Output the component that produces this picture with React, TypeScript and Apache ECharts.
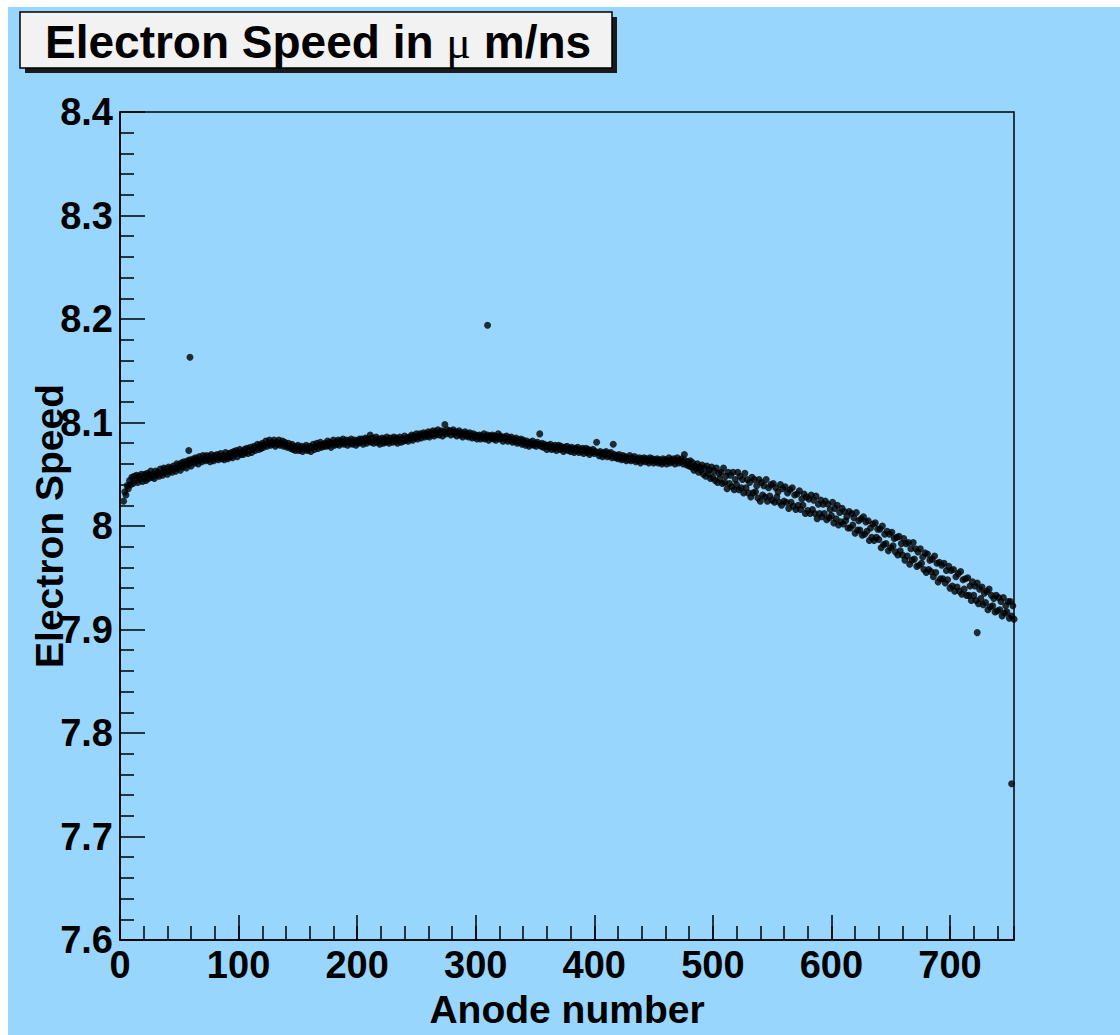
import React, { useEffect, useRef } from 'react';
import * as echarts from 'echarts';

// Anode numbers start here; each segment holds consecutive anodes.
const firstAnode = 3;

// anodes 3-102
const speedSeg1 = [
  8.024, 8.033, 8.030, 8.039, 8.036, 8.044, 8.040, 8.047, 8.041, 8.048,
  8.044, 8.049, 8.042, 8.048, 8.045, 8.050, 8.043, 8.046, 8.050, 8.044,
  8.051, 8.046, 8.049, 8.053, 8.047, 8.050, 8.046, 8.053, 8.049, 8.052,
  8.048, 8.055, 8.051, 8.049, 8.056, 8.052, 8.055, 8.050, 8.057, 8.053,
  8.056, 8.052, 8.058, 8.055, 8.053, 8.060, 8.056, 8.059, 8.054, 8.061,
  8.057, 8.062, 8.059, 8.056, 8.063, 8.060, 8.064, 8.058, 8.062, 8.065,
  8.061, 8.066, 8.063, 8.060, 8.067, 8.064, 8.062, 8.068, 8.065, 8.063,
  8.068, 8.064, 8.067, 8.062, 8.069, 8.066, 8.063, 8.068, 8.065, 8.069,
  8.064, 8.067, 8.070, 8.065, 8.068, 8.064, 8.071, 8.067, 8.065, 8.070,
  8.067, 8.071, 8.066, 8.072, 8.069, 8.073, 8.067, 8.070, 8.074, 8.069,
];

// anodes 103-202
const speedSeg2 = [
  8.072, 8.069, 8.074, 8.071, 8.075, 8.070, 8.073, 8.076, 8.071, 8.074,
  8.077, 8.073, 8.076, 8.079, 8.074, 8.078, 8.075, 8.080, 8.076, 8.079,
  8.082, 8.077, 8.080, 8.083, 8.078, 8.081, 8.079, 8.083, 8.077, 8.081,
  8.079, 8.083, 8.078, 8.080, 8.082, 8.077, 8.081, 8.078, 8.076, 8.080,
  8.077, 8.075, 8.079, 8.074, 8.077, 8.073, 8.076, 8.078, 8.073, 8.075,
  8.077, 8.072, 8.076, 8.074, 8.078, 8.073, 8.075, 8.077, 8.072, 8.076,
  8.079, 8.074, 8.077, 8.080, 8.075, 8.078, 8.081, 8.076, 8.079, 8.077,
  8.080, 8.077, 8.082, 8.078, 8.081, 8.076, 8.080, 8.083, 8.078, 8.081,
  8.079, 8.083, 8.078, 8.082, 8.080, 8.084, 8.079, 8.081, 8.083, 8.078,
  8.082, 8.080, 8.084, 8.079, 8.081, 8.083, 8.078, 8.082, 8.080, 8.084,
];

// anodes 203-302
const speedSeg3 = [
  8.081, 8.084, 8.079, 8.083, 8.085, 8.080, 8.084, 8.082, 8.088, 8.081,
  8.085, 8.080, 8.083, 8.086, 8.081, 8.084, 8.079, 8.083, 8.085, 8.080,
  8.084, 8.081, 8.086, 8.082, 8.080, 8.085, 8.083, 8.081, 8.086, 8.082,
  8.085, 8.080, 8.083, 8.086, 8.081, 8.084, 8.082, 8.087, 8.083, 8.085,
  8.082, 8.086, 8.084, 8.088, 8.083, 8.087, 8.085, 8.089, 8.084, 8.087,
  8.089, 8.085, 8.088, 8.090, 8.086, 8.089, 8.087, 8.091, 8.086, 8.090,
  8.088, 8.092, 8.087, 8.091, 8.089, 8.093, 8.088, 8.090, 8.092, 8.087,
  8.091, 8.098, 8.089, 8.093, 8.090, 8.092, 8.088, 8.091, 8.093, 8.089,
  8.091, 8.087, 8.090, 8.092, 8.088, 8.090, 8.086, 8.089, 8.091, 8.087,
  8.089, 8.086, 8.090, 8.087, 8.085, 8.089, 8.086, 8.088, 8.084, 8.087,
];

// anodes 303-402
const speedSeg4 = [
  8.088, 8.084, 8.087, 8.085, 8.089, 8.084, 8.086, 8.088, 8.083, 8.087,
  8.085, 8.088, 8.084, 8.087, 8.083, 8.086, 8.089, 8.084, 8.087, 8.085,
  8.082, 8.086, 8.084, 8.087, 8.082, 8.085, 8.083, 8.086, 8.081, 8.084,
  8.082, 8.085, 8.080, 8.083, 8.081, 8.084, 8.079, 8.083, 8.081, 8.078,
  8.082, 8.080, 8.077, 8.081, 8.079, 8.082, 8.078, 8.080, 8.077, 8.081,
  8.079, 8.089, 8.077, 8.080, 8.076, 8.079, 8.077, 8.074, 8.078, 8.076,
  8.079, 8.074, 8.077, 8.075, 8.078, 8.073, 8.076, 8.078, 8.074, 8.077,
  8.075, 8.072, 8.076, 8.074, 8.077, 8.073, 8.075, 8.072, 8.076, 8.074,
  8.071, 8.075, 8.073, 8.076, 8.071, 8.074, 8.072, 8.075, 8.070, 8.073,
  8.075, 8.071, 8.074, 8.069, 8.073, 8.071, 8.074, 8.070, 8.072, 8.081,
];

// anodes 403-502
const speedSeg5 = [
  8.071, 8.068, 8.072, 8.070, 8.067, 8.071, 8.069, 8.072, 8.067, 8.070,
  8.068, 8.071, 8.066, 8.079, 8.069, 8.066, 8.068, 8.065, 8.069, 8.066,
  8.064, 8.068, 8.065, 8.067, 8.063, 8.066, 8.064, 8.068, 8.063, 8.066,
  8.064, 8.067, 8.062, 8.065, 8.063, 8.066, 8.061, 8.065, 8.063, 8.066,
  8.062, 8.065, 8.063, 8.061, 8.066, 8.063, 8.065, 8.061, 8.064, 8.062,
  8.065, 8.061, 8.064, 8.062, 8.060, 8.065, 8.062, 8.064, 8.060, 8.063,
  8.066, 8.061, 8.064, 8.062, 8.065, 8.060, 8.063, 8.066, 8.061, 8.064,
  8.062, 8.065, 8.060, 8.069, 8.063, 8.059, 8.062, 8.058, 8.063, 8.057,
  8.061, 8.054, 8.058, 8.056, 8.060, 8.052, 8.057, 8.054, 8.059, 8.050,
  8.056, 8.048, 8.058, 8.051, 8.054, 8.046, 8.057, 8.047, 8.053, 8.044,
];

// anodes 503-602
const speedSeg6 = [
  8.056, 8.042, 8.051, 8.046, 8.052, 8.041, 8.056, 8.042, 8.048, 8.036,
  8.052, 8.041, 8.049, 8.038, 8.052, 8.035, 8.045, 8.040, 8.052, 8.035,
  8.048, 8.037, 8.045, 8.032, 8.051, 8.037, 8.045, 8.032, 8.042, 8.028,
  8.047, 8.032, 8.045, 8.033, 8.039, 8.027, 8.045, 8.024, 8.042, 8.030,
  8.039, 8.028, 8.045, 8.024, 8.037, 8.029, 8.040, 8.025, 8.041, 8.023,
  8.037, 8.028, 8.033, 8.023, 8.040, 8.020, 8.036, 8.024, 8.038, 8.023,
  8.032, 8.017, 8.035, 8.023, 8.037, 8.019, 8.030, 8.016, 8.031, 8.020,
  8.034, 8.016, 8.026, 8.020, 8.031, 8.012, 8.028, 8.015, 8.026, 8.012,
  8.030, 8.016, 8.025, 8.012, 8.029, 8.007, 8.021, 8.012, 8.025, 8.009,
  8.021, 8.012, 8.024, 8.006, 8.021, 8.008, 8.016, 8.010, 8.023, 8.003,
];

// anodes 603-702
const speedSeg7 = [
  8.017, 8.007, 8.020, 8.001, 8.013, 8.004, 8.017, 8.002, 8.014, 8.005,
  8.009, 7.998, 8.014, 7.998, 8.012, 8.001, 8.008, 7.993, 8.013, 7.996,
  8.005, 7.996, 8.007, 7.991, 8.009, 7.992, 8.004, 7.995, 8.005, 7.986,
  7.998, 7.989, 8.002, 7.986, 8.003, 7.989, 7.997, 7.987, 7.997, 7.979,
  8.000, 7.982, 7.992, 7.983, 7.995, 7.976, 7.992, 7.979, 7.994, 7.981,
  7.988, 7.975, 7.989, 7.972, 7.990, 7.976, 7.983, 7.972, 7.988, 7.967,
  7.983, 7.971, 7.984, 7.963, 7.978, 7.967, 7.984, 7.968, 7.978, 7.961,
  7.975, 7.962, 7.978, 7.964, 7.970, 7.958, 7.974, 7.955, 7.973, 7.958,
  7.967, 7.956, 7.968, 7.951, 7.971, 7.955, 7.964, 7.946, 7.965, 7.949,
  7.962, 7.949, 7.964, 7.945, 7.957, 7.948, 7.961, 7.940, 7.957, 7.942,
];

// anodes 703-754
const speedSeg8 = [
  7.958, 7.937, 7.951, 7.941, 7.954, 7.937, 7.956, 7.934, 7.948, 7.939,
  7.949, 7.933, 7.950, 7.933, 7.942, 7.928, 7.946, 7.933, 7.942, 7.928,
  7.945, 7.925, 7.939, 7.930, 7.941, 7.924, 7.935, 7.926, 7.937, 7.919,
  7.939, 7.922, 7.933, 7.923, 7.930, 7.917, 7.933, 7.918, 7.931, 7.919,
  7.927, 7.913, 7.931, 7.916, 7.923, 7.917, 7.927, 7.911, 7.927, 7.913,
  7.923, 7.910,
];

// isolated points: anode numbers and their speeds
const outlierAnodes = [58, 59, 310, 723, 752];
const outlierSpeeds = [8.073, 8.163, 8.194, 7.897, 7.751];

const titleText = 'Electron Speed in ';
const titleMu = 'μ';
const titleUnit = ' m/ns';
const xName = 'Anode number';
const yName = 'Electron Speed';

const FONT = '"Liberation Sans", Arial, Helvetica, sans-serif';
const BG = '#99d6fd';

export default function App() {
  const ref = useRef<HTMLDivElement>(null);

  useEffect(() => {
    document.body.style.overflow = 'hidden';
    const el = ref.current;
    if (!el) return;
    const chart = echarts.init(el, null, { renderer: 'svg' });

    const all = [
      ...speedSeg1, ...speedSeg2, ...speedSeg3, ...speedSeg4,
      ...speedSeg5, ...speedSeg6, ...speedSeg7, ...speedSeg8,
    ];
    const points: [number, number][] = all.map((v, i) => [firstAnode + i, v]);
    outlierAnodes.forEach((a, i) => points.push([a, outlierSpeeds[i]]));

    const labelStyle = {
      color: '#000',
      fontSize: 38,
      fontWeight: 'bold' as const,
      fontFamily: FONT,
    };
    const nameStyle = { ...labelStyle, fontSize: 39 };
    const lineStyle = { color: '#000', width: 1.5 };

    chart.setOption({
      animation: false,
      backgroundColor: BG,
      grid: {
        left: 112,
        right: 106,
        top: 105,
        bottom: 95,
        containLabel: false,
        outerBoundsMode: 'none',
        show: true,
        borderColor: '#000',
        borderWidth: 1.5,
        backgroundColor: 'transparent',
      },
      xAxis: [
        {
          type: 'value',
          min: 0,
          max: 754,
          interval: 100,
          position: 'bottom',
          axisLine: { show: true, lineStyle },
          axisTick: { show: true, inside: true, length: 25, lineStyle },
          axisLabel: { ...labelStyle, margin: 6, showMaxLabel: false },
          splitLine: { show: false },
          name: xName,
          nameLocation: 'middle',
          nameGap: 50,
          nameMoveOverlap: false,
          nameTextStyle: nameStyle,
        },
        {
          type: 'value',
          min: 0,
          max: 754,
          interval: 20,
          position: 'bottom',
          axisLine: { show: false },
          axisTick: { show: true, inside: true, length: 14, lineStyle },
          axisLabel: { show: false },
          splitLine: { show: false },
        },
      ],
      yAxis: {
        type: 'value',
        min: 7.6,
        max: 8.4,
        interval: 0.1,
        axisLine: { show: true, lineStyle },
        axisTick: { show: true, inside: true, length: 25, lineStyle },
        minorTick: { show: true, splitNumber: 5, length: 14, lineStyle },
        axisLabel: { ...labelStyle, margin: 7 },
        splitLine: { show: false },
        minorSplitLine: { show: false },
        name: yName,
        nameLocation: 'middle',
        nameGap: 51,
        nameRotate: 90,
        nameMoveOverlap: false,
        nameTextStyle: nameStyle,
      },
      series: [
        {
          type: 'scatter',
          xAxisIndex: 0,
          data: points,
          symbol: 'circle',
          symbolSize: 7,
          itemStyle: { color: '#000' },
          silent: true,
        },
      ],
      graphic: [
        {
          type: 'rect',
          shape: { x: 17, y: 10, width: 592, height: 56 },
          style: { fill: '#1a1a1a' },
        },
        {
          type: 'rect',
          shape: { x: 12, y: 5, width: 592, height: 56 },
          style: { fill: '#f2f2f2', stroke: '#000', lineWidth: 1.5 },
        },
        {
          type: 'text',
          x: 37,
          y: 35,
          style: {
            text: `{b|${titleText}}{m|${titleMu}}{b|${titleUnit}}`,
            align: 'left',
            verticalAlign: 'middle',
            fill: '#000',
            rich: {
              b: { fontSize: 46, fontWeight: 'bold', fontFamily: FONT, fill: '#000' },
              m: { fontSize: 46, fontWeight: 'normal', fontFamily: '"Liberation Serif", "DejaVu Serif", serif', fill: '#000' },
            },
          },
        },
      ],
    });

    return () => chart.dispose();
  }, []);

  return (
    <div
      ref={ref}
      style={{ position: 'absolute', left: 8, top: 7, width: 1112, height: 1028 }}
    />
  );
}
